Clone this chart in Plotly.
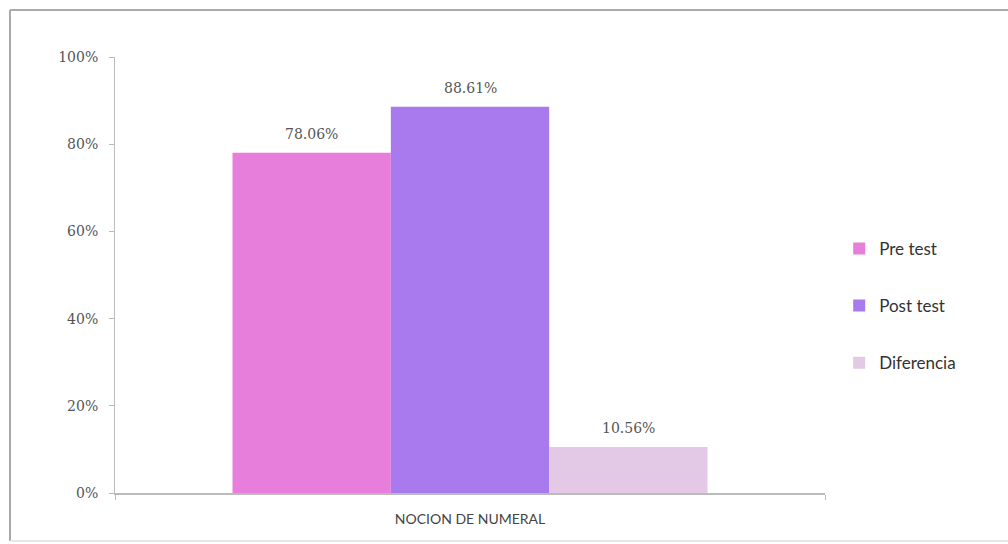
import plotly.graph_objects as go

categories = ["NOCION DE NUMERAL"]
series_names = ["Pre test", "Post test", "Diferencia"]
pre_test = [78.06]
post_test = [88.61]
diferencia = [10.56]
y_ticks = [0, 20, 40, 60, 80, 100]
y_tick_labels = ["0%", "20%", "40%", "60%", "80%", "100%"]
colors = ["#E87EDC", "#A87AEE", "#E3C9E5"]

W, H = 1008, 544
ML, MR, MT, MB = 115, 183, 57, 51
BARGAP = 0.331

fig = go.Figure()
series = [pre_test, post_test, diferencia]
for name, vals, col in zip(series_names, series, colors):
    fig.add_trace(go.Bar(
        name=name, x=categories, y=vals,
        marker=dict(color=col, line=dict(width=0)),
        legendgroup=name,
    ))

# value labels above each bar
plot_w = W - ML - MR
bar_px = plot_w * (1 - BARGAP) / len(series)
for i, vals in enumerate(series):
    for cat, v in zip(categories, vals):
        fig.add_annotation(x=cat, y=v, text=f"{v:.2f}%", showarrow=False,
                           xref="x", yref="y", yanchor="bottom",
                           xshift=(i - (len(series) - 1) / 2) * bar_px, yshift=9,
                           font=dict(family="DejaVu Serif", size=14, color="#555555"))

fig.update_layout(
    width=W, height=H,
    margin=dict(l=ML, r=MR, t=MT, b=MB),
    paper_bgcolor="white", plot_bgcolor="white",
    barmode="group", bargap=BARGAP, bargroupgap=0,
    showlegend=True,
    legend=dict(x=1.02, y=0.429, xanchor="left", yanchor="middle",
                font=dict(family="Lato", size=17, color="#333333"),
                tracegroupgap=32, traceorder="grouped",
                bgcolor="rgba(0,0,0,0)"),
    font=dict(family="DejaVu Serif", color="#555555"),
)
fig.update_yaxes(range=[0, 100], tickmode="array", tickvals=y_ticks, ticktext=y_tick_labels,
                 showgrid=False, zeroline=False,
                 showline=True, linecolor="#BBBBBB", linewidth=1,
                 ticks="outside", ticklen=5, tickcolor="#BBBBBB",
                 tickfont=dict(family="DejaVu Serif", size=14, color="#555555"),
                 ticklabelstandoff=8)
fig.update_xaxes(showgrid=False, showline=True, linecolor="#BBBBBB", linewidth=2,
                 ticks="outside", ticklen=5, tickcolor="#BBBBBB", tickson="boundaries",
                 tickfont=dict(family="Lato", size=14, color="#444444"),
                 ticklabelstandoff=12)

bx0 = (10 - ML) / plot_w
bx1 = (W - ML) / plot_w
plot_h = H - MT - MB
by0 = (plot_h + MT - 541) / plot_h
by1 = (plot_h + MT - 10) / plot_h
for (xa, ya, xb, yb, c) in [(bx0, by1, bx1, by1, "#AAAAAA"),
                            (bx0, by0, bx0, by1, "#AAAAAA"),
                            (bx0, by0, bx1, by0, "#E6E6E6")]:
    fig.add_shape(type="line", xref="paper", yref="paper",
                  x0=xa, y0=ya, x1=xb, y1=yb,
                  line=dict(color=c, width=2), layer="below")

fig.write_html("out.html")
